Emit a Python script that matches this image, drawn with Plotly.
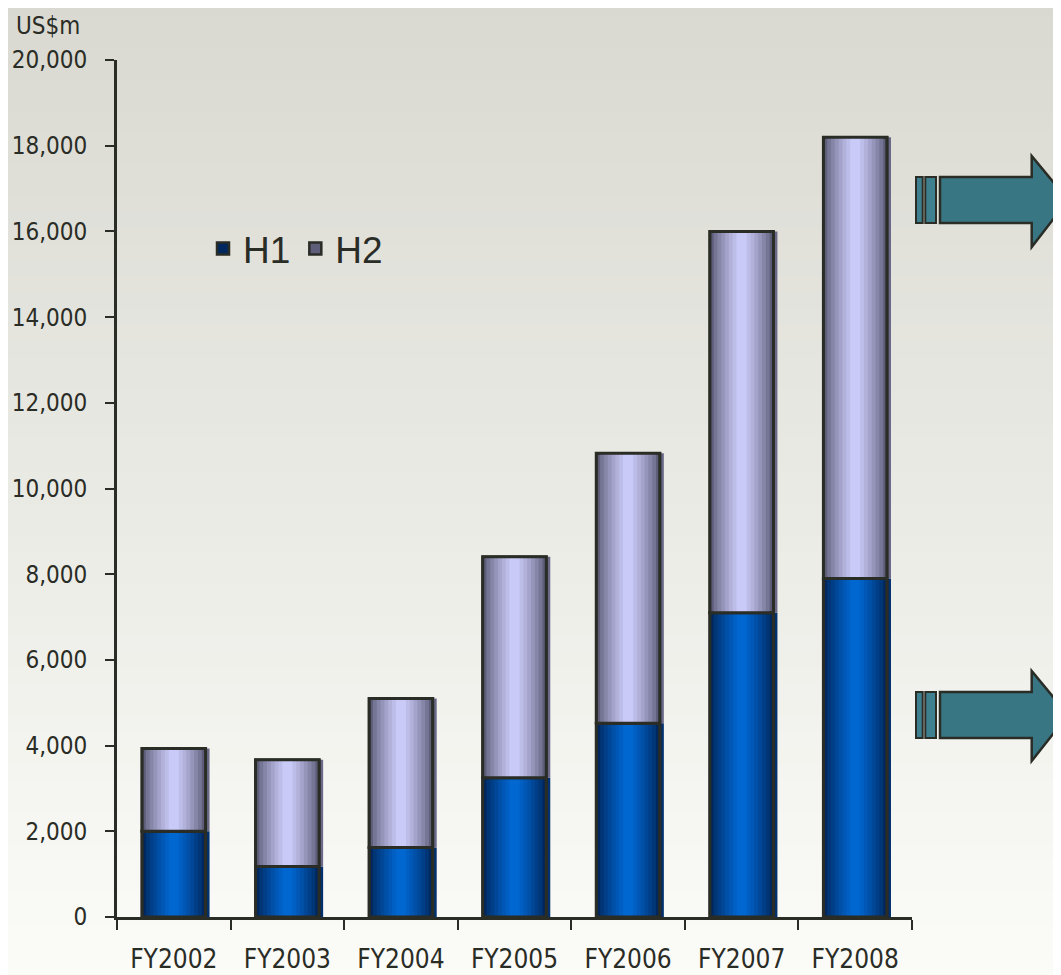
import plotly.graph_objects as go

years = ["FY2002", "FY2003", "FY2004", "FY2005", "FY2006", "FY2007", "FY2008"]
h1 = [2000, 1180, 1620, 3250, 4520, 7100, 7900]
h2 = [1930, 2490, 3480, 5160, 6300, 8900, 10300]

W, H = 1061, 975
OFF = 8                           # default body margin of the html page
L, R, T, B = 117, 912, 60, 917   # plot area in window pixels
BAR_W = 0.56
INK = "#2a2c26"
FAMILY = "DejaVu Sans Condensed, Liberation Sans Narrow, Liberation Sans, Arial"
X_FONT = dict(family=FAMILY, size=26, color=INK)
Y_FONT = dict(family=FAMILY, size=24, color=INK)


def px(x):
    return (x - L) / (R - L)


def py(y):
    return (B - y) / (B - T)


def mix(c1, c2, t):
    a = [int(c1[i:i + 2], 16) for i in (1, 3, 5)]
    b = [int(c2[i:i + 2], 16) for i in (1, 3, 5)]
    return "#" + "".join(f"{round(p + (q - p) * t):02x}" for p, q in zip(a, b))


fig = go.Figure()

# fake cylinder look: stacked narrower and lighter bars on top of each other
series = [
    ("H1", h1, [0] * len(h1), "#00285e", "#0066d0", "#00306e"),
    ("H2", h2, h1, "#5e5e7a", "#cacaf8", "#6a6a88"),
]
steps = [1.0, 0.88, 0.76, 0.64, 0.52, 0.40, 0.28, 0.16]
for name, vals, base, dark, light, shadow in series:
    fig.add_trace(go.Bar(
        x=years, y=vals, base=base, width=BAR_W, offset=-BAR_W / 2 + 0.035,
        marker=dict(color=shadow, line=dict(width=0)),
        showlegend=False, hoverinfo="skip",
    ))
    for i, s in enumerate(steps):
        t = (i / (len(steps) - 1)) ** 0.8
        fig.add_trace(go.Bar(
            x=years, y=vals, base=base, width=BAR_W * s, name=name,
            marker=dict(color=mix(dark, light, t),
                        line=dict(color=INK, width=2.5 if i == 0 else 0)),
            showlegend=(i == 0), legendgroup=name, hoverinfo="skip" if i else None,
        ))
    fig.add_trace(go.Bar(
        x=years, y=vals, base=base, width=BAR_W,
        marker=dict(color="rgba(0,0,0,0)", line=dict(color=INK, width=3)),
        showlegend=False, hoverinfo="skip",
    ))

# soft vertical background gradient
shapes = []
n = 60
top_c, bot_c = "#d9d9d1", "#fbfbf8"
for i in range(n):
    y0 = i * H / n
    y1 = (i + 1) * H / n + 1
    shapes.append(dict(
        type="rect", xref="paper", yref="paper", layer="below",
        x0=px(0), x1=px(W + 10), y0=py(y1), y1=py(y0),
        fillcolor=mix(top_c, bot_c, i / (n - 1)), line=dict(width=0),
    ))

# the two arrows on the right edge
for (ya, yb, yh0, yh1) in [(177, 223, 156, 247), (692, 738, 671, 761)]:
    ym = (ya + yb) / 2
    for x0, x1 in [(916, 922.7), (925.3, 936)]:
        shapes.append(dict(
            type="rect", xref="paper", yref="paper",
            x0=px(x0), x1=px(x1), y0=py(yb), y1=py(ya),
            fillcolor="#3e8090", line=dict(color=INK, width=2),
        ))
    pts = [(940, ya), (1031.7, ya), (1031.7, yh0), (1068, ym),
           (1031.7, yh1), (1031.7, yb), (940, yb)]
    path = "M " + " L ".join(f"{px(x):.5f},{py(y):.5f}" for x, y in pts) + " Z"
    shapes.append(dict(
        type="path", xref="paper", yref="paper", path=path,
        fillcolor="#387684", line=dict(color=INK, width=2.5),
    ))

fig.update_layout(
    width=W - OFF, height=H - OFF,
    margin=dict(l=L - OFF, r=W - R, t=T - OFF, b=H - B, pad=0, autoexpand=False),
    barmode="overlay",
    paper_bgcolor=bot_c,
    plot_bgcolor="rgba(0,0,0,0)",
    shapes=shapes,
    showlegend=True,
    legend=dict(
        orientation="h", x=px(203), y=py(218), xanchor="left", yanchor="top",
        font=dict(family="Liberation Sans, Arial", size=37, color=INK),
        bgcolor="rgba(0,0,0,0)", itemwidth=30, traceorder="normal",
    ),
    annotations=[dict(
        text="US$m", xref="paper", yref="paper", x=px(14), y=py(26),
        xanchor="left", yanchor="middle", showarrow=False, font=Y_FONT,
    )],
)
fig.update_xaxes(
    automargin=False,
    showline=True, linecolor=INK, linewidth=3,
    ticks="outside", tickson="boundaries", ticklen=10, tickwidth=2, tickcolor=INK,
    ticklabelstandoff=17, tickfont=X_FONT, showgrid=False,
    range=[-0.5, 6.5],
)
fig.update_yaxes(
    automargin=False,
    showline=True, linecolor=INK, linewidth=3,
    ticks="outside", ticklen=9, tickwidth=2, tickcolor=INK,
    range=[0, 20000], dtick=2000, tickformat=",", tickfont=Y_FONT,
    ticklabelstandoff=13, showgrid=False, zeroline=False,
)

fig.write_html("out.html")
